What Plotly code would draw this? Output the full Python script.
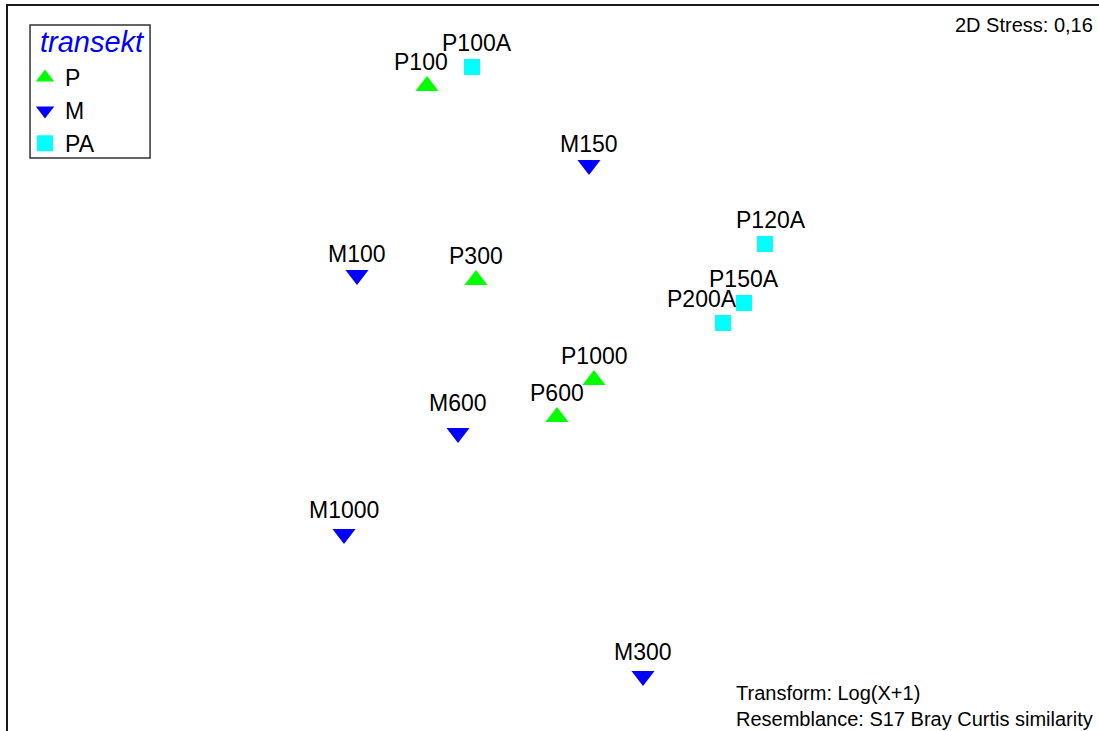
import plotly.graph_objects as go

# NMDS ordination coordinates
p_labels = ["P100", "P300", "P600", "P1000"]
p_x = [-0.365, -0.12, 0.285, 0.47]
p_y = [1.57, 0.60, -0.085, 0.10]

m_labels = ["M100", "M150", "M300", "M600", "M1000"]
m_x = [-0.715, 0.445, 0.715, -0.21, -0.78]
m_y = [0.625, 1.175, -1.38, -0.165, -0.67]

pa_labels = ["P100A", "P120A", "P150A", "P200A"]
pa_x = [-0.14, 1.325, 1.22, 1.115]
pa_y = [1.665, 0.78, 0.485, 0.385]

groups = [
    ("P", p_labels, p_x, p_y, "triangle-up", "#00ff00", 20),
    ("M", m_labels, m_x, m_y, "triangle-down", "#0000ff", 20),
    ("PA", pa_labels, pa_x, pa_y, "square", "#00ffff", 16),
]

# label placement nudges (pixels): default above the point
label_default_dy = 24
label_nudge = {"P200A": (-21, 0), "P100": (-6, 0), "P100A": (5, 0), "P120A": (6, 0),
               "M600": (0, 6), "M100": (0, -3), "M150": (0, -3)}

FONT = "Liberation Sans, Arial, sans-serif"
fig = go.Figure()
annotations = []
for name, labs, xs, ys, sym, col, sz in groups:
    fig.add_trace(go.Scatter(
        x=xs, y=ys, mode="markers", name=name,
        marker=dict(symbol=sym, color=col, size=sz, line=dict(width=0)),
        hoverinfo="text", text=labs,
    ))
    for lab, x, y in zip(labs, xs, ys):
        dx, ddy = label_nudge.get(lab, (0, 0))
        annotations.append(dict(
            x=x, y=y, xref="x", yref="y", text=lab, showarrow=False,
            xanchor="center", yanchor="middle",
            xshift=dx, yshift=label_default_dy + ddy,
            font=dict(family=FONT, size=23, color="#000000"),
        ))

# legend heading (inside the legend frame drawn below)
annotations.append(dict(
    x=0.0275, y=0.9745, xref="paper", yref="paper", text="<i>transekt</i>",
    showarrow=False, xanchor="left", yanchor="top",
    font=dict(family=FONT, size=29, color="#0000ff"),
))
annotations.append(dict(
    x=0.9965, y=0.974, xref="paper", yref="paper", text="2D Stress: 0,16",
    showarrow=False, xanchor="right", yanchor="middle",
    font=dict(family=FONT, size=20, color="#000000"),
))
annotations.append(dict(
    x=0.665, y=0.0, xref="paper", yref="paper", yshift=-1,
    text="Transform: Log(X+1)<br>Resemblance: S17 Bray Curtis similarity",
    showarrow=False, xanchor="left", yanchor="bottom", align="left",
    font=dict(family=FONT, size=20, color="#000000"),
))

fig.update_layout(
    width=1099, height=731,
    margin=dict(l=8, r=0, t=6, b=0),
    paper_bgcolor="white", plot_bgcolor="white",
    showlegend=True,
    legend=dict(
        x=0.0156, y=0.931, xanchor="left", yanchor="top",
        bgcolor="rgba(0,0,0,0)", borderwidth=0,
        font=dict(family=FONT, size=23, color="#000000"),
        tracegroupgap=0,
    ),
    shapes=[dict(type="rect", xref="paper", yref="paper",
                 x0=0.0202, x1=0.1302, y0=0.7903, y1=0.9738,
                 line=dict(color="#333333", width=1.5), fillcolor="white", layer="below")],
    xaxis=dict(range=[-2.46, 2.995], showgrid=False, zeroline=False, showticklabels=False,
               ticks="", showline=True, linecolor="#1a1a1a", linewidth=2, side="top"),
    yaxis=dict(range=[-1.655, 1.97], showgrid=False, zeroline=False, showticklabels=False,
               ticks="", showline=True, linecolor="#1a1a1a", linewidth=2, side="left"),
    annotations=annotations,
)

fig.write_html(
    "out.html",
    config={"displayModeBar": False},
    post_script="document.body.style.margin='0';document.body.style.overflow='hidden';",
)
